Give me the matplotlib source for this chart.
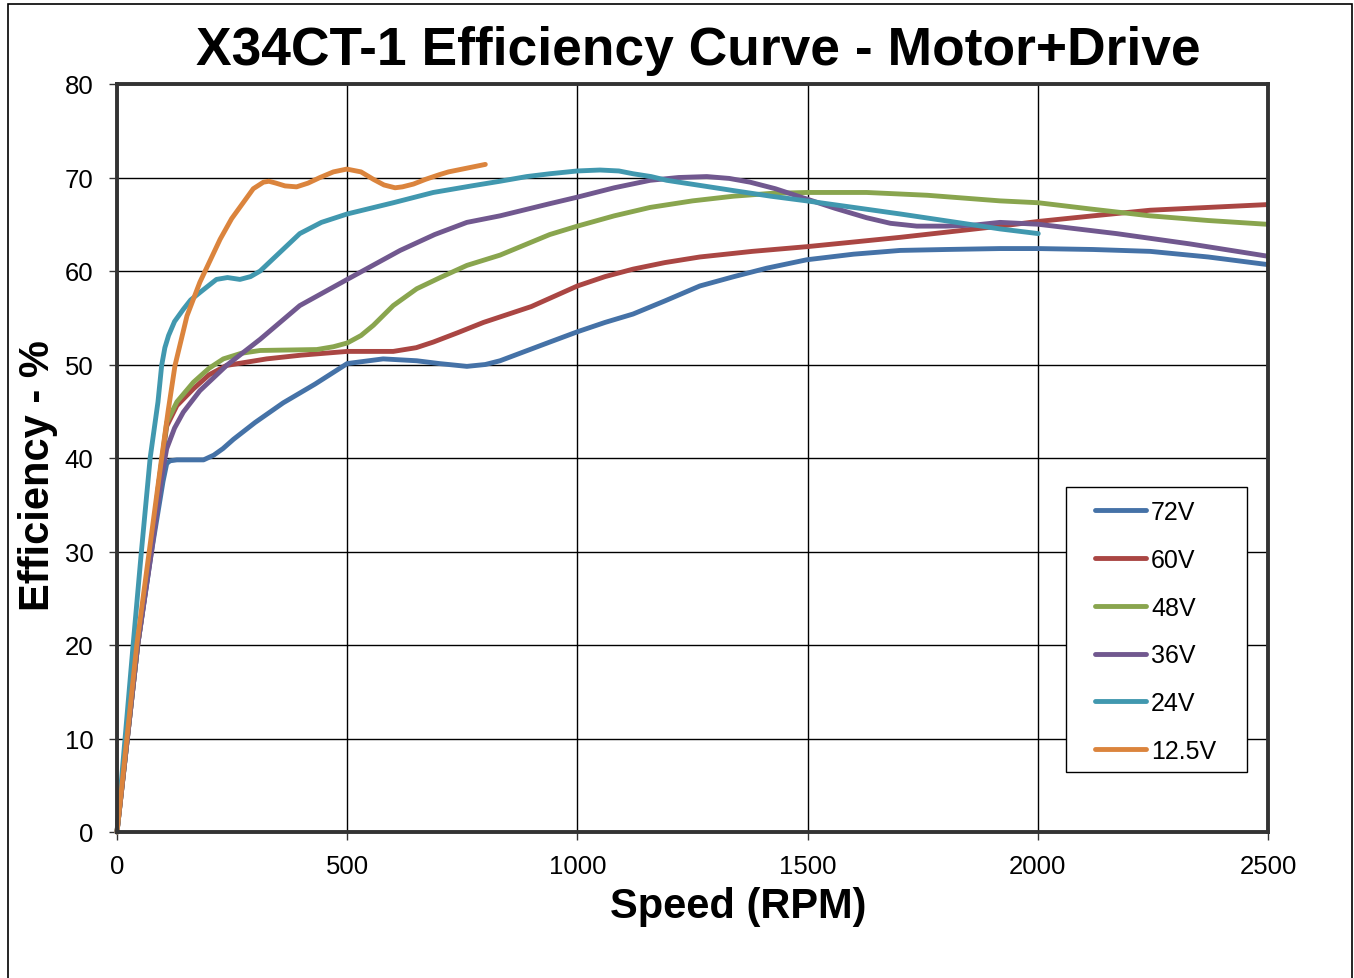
"""X34CT-1 efficiency curve (motor + drive), redrawn from the datasheet chart."""

import matplotlib
matplotlib.use("Agg")
import matplotlib.pyplot as plt
from matplotlib.patches import Rectangle

plt.rcParams["font.family"] = ["Liberation Sans", "DejaVu Sans"]

# --- data (speed in RPM, efficiency in %) ---
rpm_72 = [0, 45, 75, 100, 108, 115, 130, 188, 210, 230, 253, 300, 361, 430, 500,
          578, 651, 700, 760, 800, 832, 940, 1000, 1060, 1121, 1190, 1266, 1340,
          1411, 1498, 1600, 1701, 1800, 1918, 2001, 2120, 2244, 2370, 2497]
eff_72 = [0, 20, 30, 37.5, 39.4, 39.7, 39.8, 39.8, 40.3, 41.0, 42.0, 43.8, 45.9,
          47.9, 50.1, 50.6, 50.4, 50.1, 49.8, 50.0, 50.4, 52.4, 53.5, 54.5, 55.4,
          56.8, 58.4, 59.4, 60.3, 61.2, 61.8, 62.2, 62.3, 62.4, 62.4, 62.3, 62.1,
          61.5, 60.7]

rpm_60 = [0, 45, 74, 90, 108, 130, 166, 200, 238, 325, 400, 500, 600, 650, 687,
          740, 796, 900, 1000, 1060, 1121, 1190, 1266, 1380, 1498, 1600, 1701,
          1810, 1918, 2001, 2120, 2244, 2370, 2497]
eff_60 = [0, 20, 30, 37, 43.4, 45.6, 47.4, 48.9, 49.9, 50.6, 51.0, 51.4, 51.4,
          51.8, 52.4, 53.4, 54.5, 56.2, 58.4, 59.4, 60.2, 60.9, 61.5, 62.1, 62.6,
          63.1, 63.6, 64.2, 64.8, 65.3, 65.9, 66.5, 66.8, 67.1]

rpm_48 = [0, 45, 73, 90, 108, 130, 166, 200, 231, 270, 311, 434, 470, 500, 530,
          557, 600, 651, 702, 760, 832, 940, 1000, 1080, 1158, 1250, 1339, 1420,
          1498, 1628, 1760, 1918, 2001, 2120, 2244, 2370, 2497]
eff_48 = [0, 20, 30, 37, 43.8, 46.0, 48.1, 49.6, 50.6, 51.2, 51.5, 51.6, 51.9,
          52.3, 53.1, 54.2, 56.3, 58.1, 59.3, 60.6, 61.7, 63.9, 64.8, 65.9, 66.8,
          67.5, 68.0, 68.3, 68.4, 68.4, 68.1, 67.5, 67.3, 66.6, 65.9, 65.4, 65.0]

rpm_36 = [0, 45, 75, 97, 108, 125, 144, 180, 238, 311, 397, 500, 615, 690, 760,
          832, 940, 1000, 1080, 1158, 1220, 1281, 1330, 1375, 1430, 1498, 1560,
          1628, 1680, 1737, 1800, 1860, 1918, 2001, 2171, 2330, 2497]
eff_36 = [0, 20, 30, 38, 41, 43.2, 44.9, 47.2, 49.9, 52.7, 56.3, 59.1, 62.2,
          63.9, 65.2, 65.9, 67.2, 67.9, 68.9, 69.7, 70.0, 70.1, 69.9, 69.5, 68.8,
          67.7, 66.7, 65.7, 65.1, 64.8, 64.8, 64.9, 65.2, 65.0, 64.0, 62.9, 61.6]

rpm_24 = [0, 35, 53, 72, 89, 97, 104, 112, 125, 144, 160, 180, 216, 240, 267,
          290, 311, 354, 397, 444, 500, 600, 687, 770, 832, 890, 940, 1000, 1049,
          1090, 1121, 1160, 1194, 1260, 1339, 1420, 1498, 1600, 1701, 1810, 1918,
          2001]
eff_24 = [0, 20, 30, 40, 46, 49.9, 51.8, 53.1, 54.6, 55.9, 56.9, 57.7, 59.1,
          59.3, 59.1, 59.4, 60.0, 62.0, 64.0, 65.2, 66.1, 67.3, 68.4, 69.1, 69.6,
          70.1, 70.4, 70.7, 70.8, 70.7, 70.4, 70.1, 69.7, 69.2, 68.6, 68.0, 67.5,
          66.8, 66.1, 65.3, 64.5, 64.0]

rpm_12 = [0, 43, 70, 97, 111, 126, 152, 180, 202, 224, 249, 274, 296, 318, 330,
          345, 365, 390, 415, 441, 470, 499, 530, 557, 580, 604, 620, 644, 670,
          700, 720, 740, 770, 800]
eff_12 = [0, 20, 30, 40, 45, 49.9, 55.2, 58.8, 61.1, 63.4, 65.6, 67.3, 68.8,
          69.5, 69.6, 69.4, 69.1, 69.0, 69.4, 70.0, 70.6, 70.9, 70.6, 69.8, 69.2,
          68.9, 69.0, 69.3, 69.8, 70.3, 70.6, 70.8, 71.1, 71.4]

series = [
    ("72V", rpm_72, eff_72, "#4572A7"),
    ("60V", rpm_60, eff_60, "#AA4643"),
    ("48V", rpm_48, eff_48, "#89A54E"),
    ("36V", rpm_36, eff_36, "#71588F"),
    ("24V", rpm_24, eff_24, "#4198AF"),
    ("12.5V", rpm_12, eff_12, "#DB843D"),
]

x_ticks = [0, 500, 1000, 1500, 2000, 2500]
y_ticks = [0, 10, 20, 30, 40, 50, 60, 70, 80]

W, H = 1354, 979
fig = plt.figure(figsize=(W / 100, H / 100), dpi=100)
ax = fig.add_axes([117 / W, 1 - 833 / H, (1268 - 117) / W, (833 - 85) / H])

for label, xs, ys, color in series:
    ax.plot(xs, ys, color=color, lw=3.5, label=label,
            solid_capstyle="round", solid_joinstyle="round", clip_on=False)

ax.set_xlim(0, 2500)
ax.set_ylim(0, 80)
ax.set_xticks(x_ticks)
ax.set_yticks(y_ticks)
ax.grid(True, color="black", lw=1.0)
ax.set_axisbelow(True)
for sp in ax.spines.values():
    sp.set_color("#333333")
    sp.set_linewidth(2.8)
ax.tick_params(axis="both", labelsize=18.5, length=6, width=1, color="#333333")
ax.tick_params(axis="y", pad=11)
ax.tick_params(axis="x", pad=10)

ax.set_xlabel("Speed (RPM)", fontsize=30, fontweight="bold")
ax.xaxis.set_label_coords((738 - 117) / 1151, (833 - 907) / 748)
ax.xaxis.label.set_va("center")
ax.set_ylabel("Efficiency - %", fontsize=30, fontweight="bold")
ax.yaxis.set_label_coords((38 - 117) / 1151, (833 - 476) / 748)
ax.yaxis.label.set_va("center")

fig.text(698 / W, 1 - 65 / H, "X34CT-1 Efficiency Curve - Motor+Drive",
         fontsize=38.4, fontweight="bold", ha="center", va="baseline")

# legend entries without frame, box drawn separately to match the reference
leg = ax.legend(loc="upper left", bbox_to_anchor=((1095 - 117) / 1151, (833 - 501) / 748),
                fontsize=18, frameon=False, borderaxespad=0, borderpad=0,
                handlelength=2.05, handletextpad=0.2, labelspacing=0.95)
for h in leg.get_lines():
    h.set_linewidth(3.5)
    h.set_solid_capstyle("round")
ax.add_patch(Rectangle(((1066 - 117) / 1151, (833 - 773) / 748),
                       (1247 - 1066) / 1151, (773 - 488) / 748,
                       transform=ax.transAxes, facecolor="white",
                       edgecolor="black", lw=1.0, zorder=4))
leg.set_zorder(5)

# outer chart border
fig.patches.append(Rectangle((8 / W, -0.01), (1352 - 8) / W, 1.01 - 5 / H,
                             transform=fig.transFigure, fill=False,
                             edgecolor="black", lw=1.2))

fig.savefig("out.png", dpi=100, facecolor="white")
